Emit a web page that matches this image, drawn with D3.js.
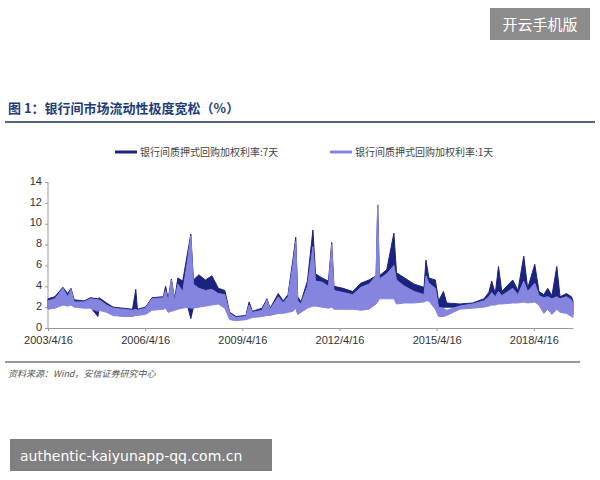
<!DOCTYPE html><html><head><meta charset="utf-8"><script src="https://d3js.org/d3.v7.min.js"></script>
<style>body{margin:0;background:#fff}</style></head><body><svg id="c" width="600" height="480"></svg>
<script>
const dates=[2003.29,2003.5,2003.75,2003.9,2004.0,2004.1,2004.4,2004.6,2004.83,2004.87,2005.1,2005.3,2005.6,2005.9,2006.0,2006.05,2006.3,2006.5,2006.85,2006.92,2007.0,2007.1,2007.2,2007.3,2007.45,2007.6,2007.7,2007.78,2007.95,2008.15,2008.35,2008.55,2008.75,2008.9,2009.1,2009.4,2009.5,2009.6,2009.9,2010.05,2010.15,2010.4,2010.55,2010.7,2010.85,2010.94,2011.0,2011.1,2011.3,2011.47,2011.55,2011.75,2011.95,2012.05,2012.12,2012.4,2012.7,2012.95,2013.2,2013.42,2013.47,2013.52,2013.75,2013.97,2014.05,2014.3,2014.6,2014.9,2014.96,2015.05,2015.25,2015.35,2015.5,2015.6,2016.0,2016.4,2016.75,2016.9,2016.99,2017.1,2017.2,2017.3,2017.64,2017.8,2017.98,2018.1,2018.32,2018.45,2018.6,2018.72,2018.85,2019.0,2019.1,2019.3,2019.45,2019.5];
const r7Hi=[2.8,3.0,3.9,3.3,3.8,2.7,2.6,2.9,2.8,2.9,2.4,2.0,1.9,1.8,3.7,1.8,2.0,2.9,3.0,4.0,2.8,4.7,2.8,4.8,4.5,7.2,9.0,4.6,5.1,4.6,5.0,3.8,3.6,1.5,1.1,1.2,2.5,1.6,1.9,2.8,1.9,3.3,2.6,3.2,6.5,8.7,3.0,2.5,4.5,9.4,5.2,4.8,4.5,8.2,4.0,3.8,3.5,4.3,4.6,5.0,11.8,5.0,5.6,9.1,5.3,4.8,4.2,3.9,6.5,4.8,4.6,2.6,3.5,2.4,2.3,2.4,2.8,3.4,4.5,3.3,5.9,3.5,4.6,3.6,6.9,3.8,6.1,3.5,3.2,3.8,3.1,5.9,3.0,3.3,3.0,2.6];
const r7Lo=[1.9,2.0,2.3,2.2,2.3,2.1,2.0,2.0,1.1,1.8,1.6,1.3,1.2,1.2,1.3,1.3,1.4,1.8,2.0,2.1,1.6,1.7,1.8,1.9,2.0,2.1,0.9,2.0,2.1,2.2,2.3,2.4,2.0,0.9,0.8,0.9,1.0,1.1,1.2,1.3,1.3,1.5,1.5,1.6,1.7,2.0,1.4,1.6,2.0,2.3,2.3,2.2,2.1,2.2,2.0,2.0,2.1,2.0,2.1,2.5,2.6,3.0,3.0,3.0,2.6,2.8,2.8,2.8,2.9,2.9,2.2,1.3,2.0,2.0,2.0,2.1,2.2,2.3,2.4,2.4,2.5,2.5,2.6,2.6,2.7,2.6,2.7,2.4,1.6,2.0,1.5,2.0,1.7,1.6,1.5,1.3];
const r1Hi=[2.6,2.8,3.8,3.0,3.7,2.5,2.5,2.8,2.7,2.7,2.2,1.9,1.8,1.7,1.8,1.7,1.9,2.8,2.9,3.6,2.6,4.6,2.6,4.2,3.5,6.5,8.8,4.2,3.8,3.6,3.7,3.3,3.2,1.4,1.0,1.1,2.2,1.5,1.7,2.7,1.8,3.0,2.4,3.0,6.0,8.3,2.6,2.3,4.0,7.8,4.5,4.4,4.0,8.0,3.6,3.4,3.2,3.9,4.2,5.0,11.8,4.7,5.2,6.0,4.6,4.0,3.5,3.2,5.0,4.3,3.8,2.0,1.9,1.7,2.1,2.3,2.6,3.0,3.4,3.0,3.5,3.1,3.8,3.2,4.5,3.5,4.3,3.1,2.9,3.0,2.8,3.0,2.8,3.0,2.7,2.3];
const r1Lo=[1.8,1.9,2.2,2.1,2.2,2.0,1.9,1.9,1.6,1.7,1.5,1.2,1.1,1.1,1.2,1.2,1.3,1.7,1.8,1.9,1.5,1.6,1.7,1.8,1.9,2.0,1.9,1.9,2.0,2.1,2.2,2.3,1.9,0.8,0.7,0.8,0.9,1.0,1.1,1.2,1.2,1.4,1.4,1.5,1.6,1.9,1.3,1.5,1.9,2.1,2.1,2.0,1.9,2.0,1.8,1.8,1.8,1.7,1.8,2.3,2.5,2.8,2.8,2.8,2.3,2.4,2.4,2.5,2.6,2.6,1.8,1.1,1.1,1.2,1.8,1.9,2.0,2.1,2.2,2.2,2.3,2.3,2.4,2.4,2.5,2.4,2.5,2.2,1.4,1.8,1.3,1.8,1.5,1.4,1.1,1.0];
const yTicks=[0,2,4,6,8,10,12,14];
const xTicks=[2003.29,2006.29,2009.29,2012.29,2015.29,2018.29];
const xLabels=["2003/4/16","2006/4/16","2009/4/16","2012/4/16","2015/4/16","2018/4/16"];
const title="图 1：银行间市场流动性极度宽松（%）";
const leg=["银行间质押式回购加权利率:7天","银行间质押式回购加权利率:1天"];
const svg=d3.select("#c");const F="'Noto Sans CJK SC',sans-serif";
const x=d3.scaleLinear().domain([2003.29,2019.5]).range([48,573]);
const y=d3.scaleLinear().domain([0,14]).range([328,182]);
svg.append("rect").attr("x",490).attr("y",8).attr("width",100).attr("height",32).attr("fill","#8c8c8c");
svg.append("text").attr("x",540).attr("y",30).attr("text-anchor","middle").attr("fill","#fff").attr("font-family",F).attr("font-size",15).text("开云手机版");
svg.append("text").attr("x",8).attr("y",113).attr("fill","#1f3c7a").attr("font-weight","bold").attr("font-family",F).attr("font-size",13).text(title);
svg.append("line").attr("x1",5).attr("x2",595).attr("y1",122).attr("y2",122).attr("stroke","#1f2f5a").attr("stroke-width",1.5);
const lc=["#1a237e","#8585e0"];
[[115,140],[330,355]].forEach((p,i)=>{svg.append("line").attr("x1",p[0]).attr("x2",p[0]+22).attr("y1",152).attr("y2",152).attr("stroke",lc[i]).attr("stroke-width",3);
svg.append("text").attr("x",p[1]).attr("y",156).attr("font-family",F).attr("font-size",10).attr("fill","#444").text(leg[i]);});
const ya=svg.append("g").attr("transform","translate(48,0)").call(d3.axisLeft(y).tickValues(yTicks).tickSize(3).tickSizeOuter(0));
const xa=svg.append("g").attr("transform","translate(0,328)").call(d3.axisBottom(x).tickValues(xTicks).tickFormat((d,i)=>xLabels[i]).tickSize(3).tickSizeOuter(0).tickPadding(5));
[ya,xa].forEach(a=>{a.selectAll("path,line").attr("stroke","#999");a.selectAll("text").attr("font-family","Arial,'Liberation Sans'").attr("font-size",11).attr("fill","#333");});
ya.selectAll("text").attr("dy","0.2em");
ya.select(".domain").attr("d","M0,182V328");
const idx=dates.map((d,i)=>i);
const band=(hi,lo)=>d3.area().x(i=>x(dates[i])).y0(i=>y(lo[i])).y1(i=>y(hi[i]));
svg.append("path").attr("d",band(r7Hi,r7Lo)(idx)).attr("fill",lc[0]).attr("stroke",lc[0]).attr("stroke-width",1);
svg.append("path").attr("d",band(r1Hi,r1Lo)(idx)).attr("fill",lc[1]).attr("stroke",lc[1]).attr("stroke-width",1);
svg.append("line").attr("x1",5).attr("x2",580).attr("y1",362).attr("y2",362).attr("stroke","#333").attr("stroke-width",1.2);
svg.append("text").attr("x",8).attr("y",377).attr("font-family",F).attr("font-style","italic").attr("font-size",9).attr("fill","#555").text("资料来源：Wind，安信证券研究中心");
svg.append("rect").attr("x",10).attr("y",439).attr("width",262).attr("height",32).attr("fill","#808080");
svg.append("text").attr("x",20).attr("y",461).attr("fill","#fff").attr("font-family","'DejaVu Sans',sans-serif").attr("font-size",14).text("authentic-kaiyunapp-qq.com.cn");
</script></body></html>
